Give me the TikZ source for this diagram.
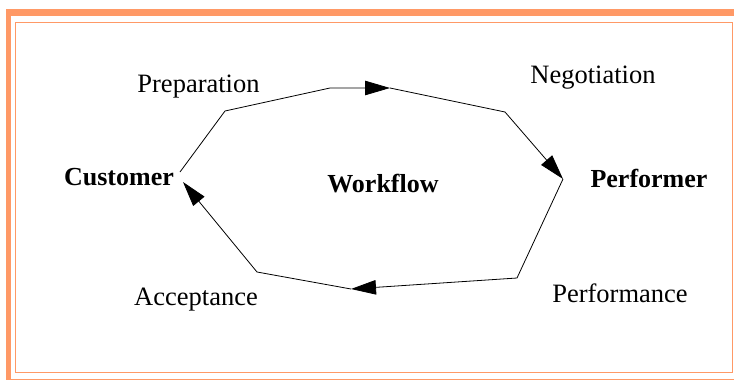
\documentclass[tikz,border=0pt]{standalone}
\usepackage{fontspec}
\setmainfont{Liberation Serif}
\usetikzlibrary{arrows.meta}
\definecolor{frameor}{RGB}{255,153,102}
\begin{document}
\begin{tikzpicture}[x=1pt,y=-1pt,
  flow/.style={draw=black,line width=0.8pt,-{Triangle[length=25pt,width=14.5pt]}},
  lbl/.style={anchor=base,inner sep=0pt,font=\fontsize{26.5}{30}\selectfont},
  role/.style={lbl,font=\fontsize{26}{30}\selectfont\bfseries}]
\useasboundingbox (0,0) rectangle (734,380);
% frame
\fill[frameor] (6,9) rectangle (734,16);
\fill[frameor] (6,9) rectangle (11,380);
\draw[frameor,line width=1pt] (11,379) -- (734,379);
\draw[frameor,line width=1pt] (15.3,22.3) rectangle (732.8,372.3);
% labels
\node[role] (cust) at (119,185) {Customer};
\node[role] (perf) at (649,187) {Performer};
\node[role] (wf) at (383,192) {Workflow};
\node[lbl] (prep) at (198.5,92) {Preparation};
\node[lbl] (nego) at (593,83) {Negotiation};
\node[lbl] (acc) at (196,305) {Acceptance};
\node[lbl] (perfm) at (620,302) {Performance};
% path points
\coordinate (c0) at (180,172);
\coordinate (p1) at (225,111);
\coordinate (p2) at (330,88);
\coordinate (t1) at (390,88);
\coordinate (n1) at (505,112);
\coordinate (t2) at (563,179);
\coordinate (f1) at (517,278);
\coordinate (t3) at (351,289);
\coordinate (a1) at (257,272);
\coordinate (t4) at (183,182);
\draw[flow] (c0) -- (p1) -- (p2) -- (t1);
\draw[flow] (t1) -- (n1) -- (t2);
\draw[flow] (t2) -- (f1) -- (t3);
\draw[flow] (t3) -- (a1) -- (t4);
\end{tikzpicture}
\end{document}
